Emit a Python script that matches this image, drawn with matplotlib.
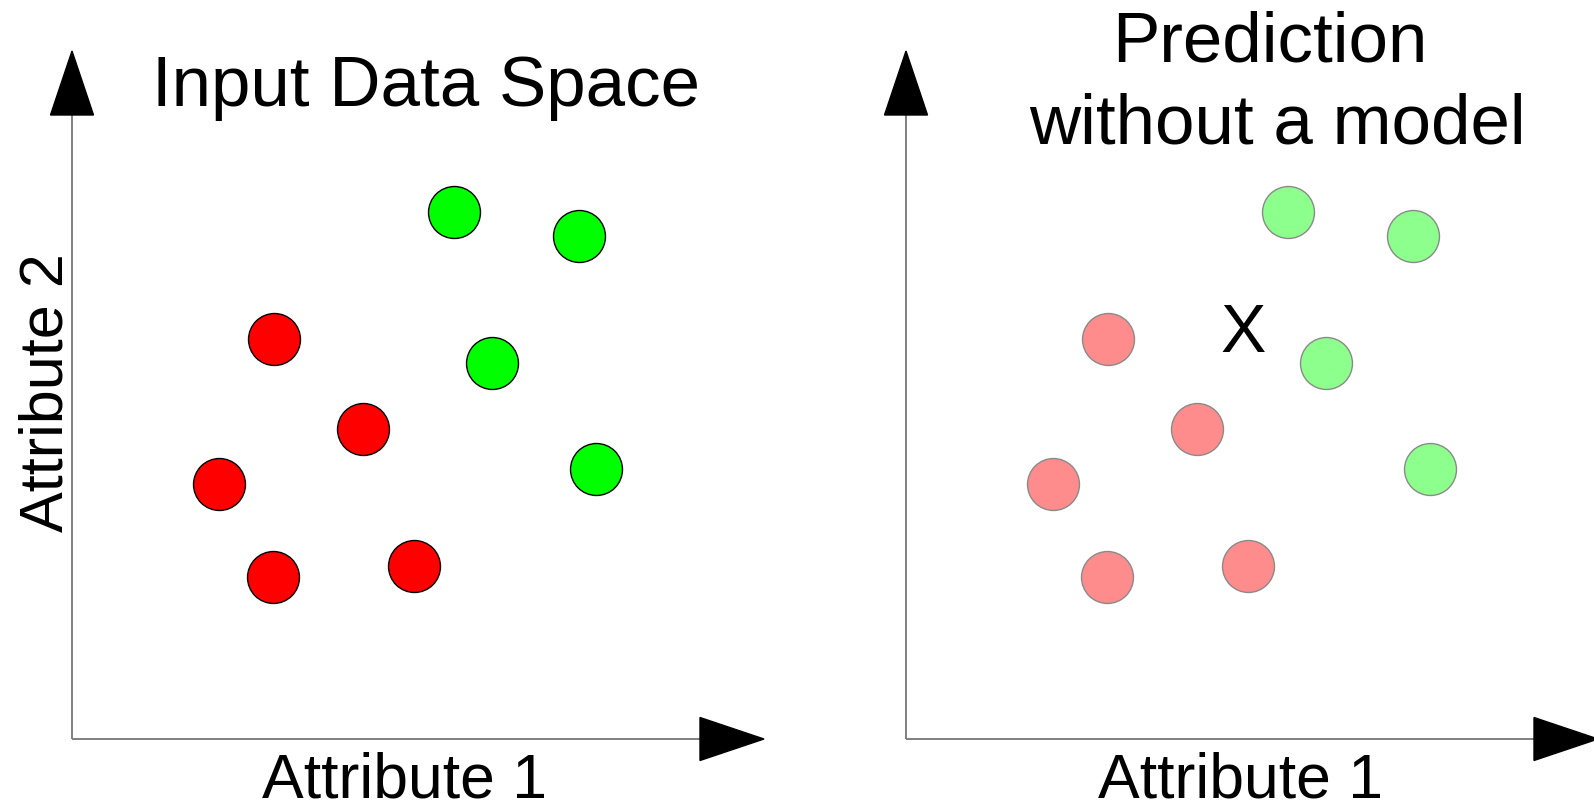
import matplotlib
matplotlib.use("Agg")
import matplotlib.pyplot as plt
from matplotlib.patches import Polygon

plt.rcParams['font.family'] = ['Liberation Sans', 'DejaVu Sans']

# ---- data (arbitrary units, axis origin at 0,0; axes run to 10) ----
green_x = [5.52, 7.33, 6.07, 7.57]
green_y = [7.66, 7.31, 5.47, 3.93]
red_x = [2.92, 4.21, 2.12, 2.90, 4.94]
red_y = [5.82, 4.50, 3.71, 2.35, 2.51]
query_x = 4.87
query_y = 5.89

titles_left = "Input Data Space"
title_right_1 = "Prediction"
title_right_2 = "without a model"
xlabel = "Attribute 1"
ylabel = "Attribute 2"

W, H = 1594, 801
fig = plt.figure(figsize=(W / 100, H / 100), dpi=100)

AX_W, AX_H = 692, 688          # pixel extent of each axes (origin -> arrow tip)
ORIG_Y = 739                   # pixel row of the x axes (from top)
HEAD_L, HEAD_HW = 64, 21.5     # arrow head length / half width in px


def px(x, y):
    """pixel (from top-left) -> figure fraction"""
    return x / W, 1 - y / H


def make_panel(x0, light):
    l, b = px(x0, ORIG_Y)
    ax = fig.add_axes([l, b, AX_W / W, AX_H / H])
    ax.set_xlim(0, 10)
    ax.set_ylim(0, 10)
    ax.axis('off')
    # axis lines
    fx = 1 - HEAD_L / AX_W
    fy = 1 - HEAD_L / AX_H
    ax.plot([0, fx], [0, 0], transform=ax.transAxes, color='#808080', lw=1.4,
            clip_on=False, solid_capstyle='butt')
    ax.plot([0, 0], [0, fy], transform=ax.transAxes, color='#808080', lw=1.4,
            clip_on=False, solid_capstyle='butt')
    # arrow heads (display pixel coords)
    ox, oy = x0, H - ORIG_Y
    hx = Polygon([(ox + AX_W - HEAD_L, oy - HEAD_HW), (ox + AX_W - HEAD_L, oy + HEAD_HW),
                  (ox + AX_W, oy)], closed=True, transform=None, color='black')
    vy = Polygon([(ox - HEAD_HW, oy + AX_H - HEAD_L), (ox + HEAD_HW, oy + AX_H - HEAD_L),
                  (ox, oy + AX_H)], closed=True, transform=None, color='black')
    fig.add_artist(hx)
    fig.add_artist(vy)
    if light:
        gc, rc, ec = '#8cff8c', '#ff8c8c', '#8a8a8a'
    else:
        gc, rc, ec = '#00ff00', '#ff0000', '#000000'
    ax.scatter(green_x, green_y, s=1400, c=gc, edgecolors=ec, linewidths=1.0,
               clip_on=False, zorder=3)
    ax.scatter(red_x, red_y, s=1400, c=rc, edgecolors=ec, linewidths=1.0,
               clip_on=False, zorder=3)
    return ax


axL = make_panel(72, light=False)
axR = make_panel(906, light=True)

# query point
axR.text(query_x, query_y, "X", fontsize=49, ha='center', va='center',
         color='black')

# titles
fig.text(*px(426, 106), titles_left, fontsize=51, ha='center', va='baseline')
fig.text(*px(1270, 62), title_right_1, fontsize=51, ha='center', va='baseline')
fig.text(*px(1277, 143), title_right_2, fontsize=51, ha='center', va='baseline')

# axis labels
fig.text(*px(404, 798), xlabel, fontsize=45, ha='center', va='baseline')
fig.text(*px(1240, 798), xlabel, fontsize=45, ha='center', va='baseline')
fig.text(*px(63, 393), ylabel, fontsize=44, ha='center', va='baseline',
         rotation=90, rotation_mode='anchor')

fig.savefig("out.png", dpi=100)
